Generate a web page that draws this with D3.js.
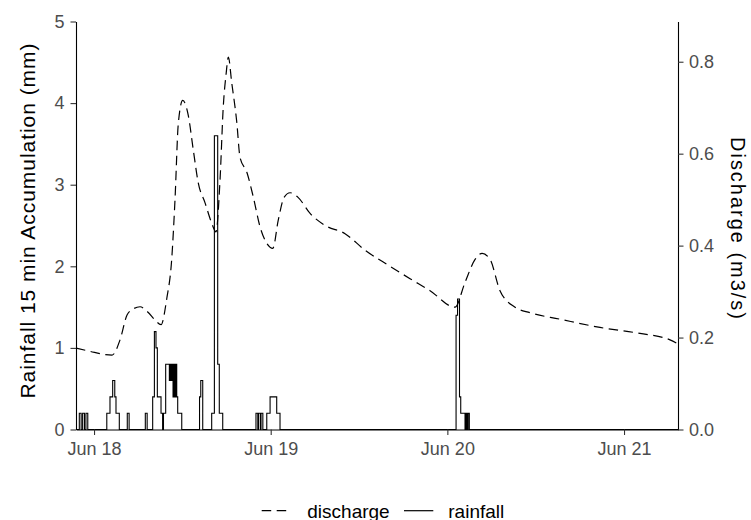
<!DOCTYPE html>
<html><head><meta charset="utf-8">
<script src="https://cdn.jsdelivr.net/npm/d3@7"></script>
<style>body{margin:0;background:#fff}svg{display:block}</style>
</head><body>
<svg id="chart" width="751" height="520"></svg>
<script>
// ---- data ----
const dischargeTimes = ["06-17 21:33","06-17 23:27","06-18 01:30","06-18 02:27","06-18 03:32","06-18 04:29","06-18 05:18","06-18 06:15","06-18 07:20","06-18 08:17","06-18 09:06","06-18 09:53","06-18 10:33","06-18 11:00","06-18 11:27","06-18 12:03","06-18 12:49","06-18 13:29","06-18 14:10","06-18 15:05","06-18 15:59","06-18 16:34","06-18 17:07","06-18 17:34","06-18 17:56","06-18 18:15","06-18 18:42","06-18 19:23","06-18 19:50","06-18 20:45","06-18 21:38","06-18 22:33","06-18 23:28","06-19 00:17","06-19 01:02","06-19 01:49","06-19 02:38","06-19 03:43","06-19 05:21","06-19 07:23","06-19 10:06","06-19 12:49","06-19 16:13","06-19 18:56","06-19 21:39","06-20 01:02","06-20 02:24","06-20 03:46","06-20 04:43","06-20 05:48","06-20 07:09","06-20 09:12","06-20 11:14","06-20 15:18","06-20 20:44","06-21 02:10","06-21 06:15","06-21 07:20"];
const dischargeValues = [0.177,0.170,0.163,0.162,0.195,0.249,0.262,0.267,0.255,0.238,0.228,0.285,0.370,0.500,0.666,0.716,0.682,0.608,0.536,0.493,0.449,0.430,0.543,0.705,0.772,0.810,0.755,0.670,0.592,0.560,0.506,0.441,0.405,0.394,0.456,0.505,0.515,0.505,0.470,0.444,0.426,0.390,0.355,0.328,0.302,0.266,0.320,0.370,0.383,0.370,0.302,0.266,0.254,0.240,0.222,0.209,0.195,0.186];

const rainTimes = ["06-17 21:33",
 "06-17 22:00","06-17 22:15","06-17 22:27","06-17 22:42","06-17 22:54","06-17 23:09",
 "06-18 01:44","06-18 02:10","06-18 02:32","06-18 02:49","06-18 02:59","06-18 03:26",
 "06-18 04:31","06-18 04:46","06-18 06:58","06-18 07:13",
 "06-18 07:58","06-18 08:12","06-18 08:25","06-18 08:36","06-18 09:06","06-18 09:19",
 "06-18 09:26","06-18 09:44","06-18 10:14","06-18 10:19","06-18 10:24","06-18 10:29","06-18 10:34","06-18 10:39","06-18 10:44","06-18 10:49","06-18 10:54","06-18 10:59","06-18 11:04","06-18 11:09","06-18 11:14","06-18 11:22","06-18 11:55",
 "06-18 14:20","06-18 14:30","06-18 14:46",
 "06-18 15:59","06-18 16:21","06-18 16:48","06-18 17:01","06-18 17:29",
 "06-18 22:00","06-18 22:15","06-18 22:21","06-18 22:36","06-18 22:41","06-18 22:56",
 "06-18 23:28","06-18 23:55","06-19 00:49","06-19 01:16",
 "06-20 01:11","06-20 01:23","06-20 01:39","06-20 01:49","06-20 02:24","06-20 02:29","06-20 02:34","06-20 02:39","06-20 02:44","06-20 02:49","06-20 02:54","06-20 02:59",
 "06-21 07:20"];
const rainValues = [0,
 0.2,0,0.2,0,0.2,0,
 0.2,0.4,0.6,0.4,0.2,0,
 0.2,0,0.2,0,
 0.4,1.2,1.0,0.4,0.2,0,
 0.2,0.8,0.6,0.8,0.6,0.8,0.6,0.8,0.4,0.8,0.4,0.8,0.4,0.8,0.4,0.2,0,
 0.4,0.6,0,
 0.2,3.6,0.8,0.2,0,
 0.2,0,0.2,0,0.2,0,
 0.2,0.4,0.2,0,
 1.4,1.6,0.4,0.2,0,0.2,0,0.2,0,0.2,0.2,0,
 0];

const xTicks = ["06-18 00:00","06-19 00:00","06-20 00:00","06-21 00:00"];
const xDomain = ["06-17 21:33","06-21 07:20"];
const yLeftTicks = [0,1,2,3,4,5];
const yRightTicks = [0,0.2,0.4,0.6,0.8];
const rainMax = 5;
const dischargeMax = 0.8875;
const seriesNames = ["discharge","rainfall"];

// ---- drawing ----
const parse = s => d3.utcParse("%Y-%m-%d %H:%M")("2021-" + s);
const svg = d3.select("#chart");
const L = 76, R = 678, T = 21.5, B = 429.5;
const FONT = "'Liberation Sans', Arial, sans-serif";

const x = d3.scaleUtc().domain(xDomain.map(parse)).range([L, R]);
const yL = d3.scaleLinear().domain([0, rainMax]).range([B, T]);
const yR = d3.scaleLinear().domain([0, dischargeMax]).range([B, T]);

const rain = rainTimes.map((t, i) => ({t: parse(t), v: rainValues[i]}));
const dis = dischargeTimes.map((t, i) => ({t: parse(t), v: dischargeValues[i]}));

svg.append("path")
  .attr("d", d3.line().x(d => x(d.t)).y(d => yL(d.v)).curve(d3.curveStepAfter)(rain))
  .attr("fill", "none").attr("stroke", "#000").attr("stroke-width", 1.1);

svg.append("path")
  .attr("d", d3.line().x(d => x(d.t)).y(d => yR(d.v)).curve(d3.curveMonotoneX)(dis))
  .attr("fill", "none").attr("stroke", "#000").attr("stroke-width", 1.2)
  .attr("stroke-dasharray", "9.5,5.5");

function styleAxis(g) {
  g.select(".domain").attr("stroke", "#000").attr("stroke-width", 1.1);
  g.selectAll(".tick line").attr("stroke", "#333").attr("stroke-width", 1.1);
  g.selectAll(".tick text").attr("fill", "#4d4d4d").style("font-family", FONT).style("font-size", "18px");
}

svg.append("g").attr("transform", `translate(${L},0)`)
  .call(d3.axisLeft(yL).tickValues(yLeftTicks).tickFormat(d3.format("d")).tickSize(5.5).tickSizeOuter(0).tickPadding(6))
  .call(styleAxis);
svg.append("g").attr("transform", `translate(${R},0)`)
  .call(d3.axisRight(yR).tickValues(yRightTicks).tickFormat(d3.format(".1f")).tickSize(5.5).tickSizeOuter(0).tickPadding(5.5))
  .call(styleAxis);
svg.append("g").attr("transform", `translate(0,${B})`)
  .call(d3.axisBottom(x).tickValues(xTicks.map(parse)).tickFormat(d3.utcFormat("%b %d")).tickSize(5.5).tickSizeOuter(0).tickPadding(7.7))
  .call(styleAxis);

// axis titles
svg.append("text").attr("transform", `translate(35,221) rotate(-90)`)
  .attr("text-anchor", "middle").style("font-family", FONT).style("font-size", "21px").attr("fill", "#000")
  .attr("textLength", 355).attr("lengthAdjust", "spacing")
  .text("Rainfall 15 min Accumulation (mm)");
svg.append("text").attr("transform", `translate(731,228) rotate(90)`)
  .attr("text-anchor", "middle").style("font-family", FONT).style("font-size", "20px").attr("fill", "#000")
  .attr("textLength", 182).attr("lengthAdjust", "spacing")
  .text("Discharge (m3/s)");

// legend
const legend = svg.append("g");
const keys = [{x0: 261.7, x1: 287.3, tx: 307.3, dash: "9.5,5.5"}, {x0: 404, x1: 433.3, tx: 448.3, dash: null}];
keys.forEach((k, i) => {
  legend.append("line").attr("x1", k.x0).attr("x2", k.x1).attr("y1", 510.7).attr("y2", 510.7)
    .attr("stroke", "#000").attr("stroke-width", 1.2).attr("stroke-dasharray", k.dash);
  legend.append("text").attr("x", k.tx).attr("y", 517.5)
    .style("font-family", FONT).style("font-size", "19px").attr("fill", "#000").text(seriesNames[i]);
});
</script>
</body></html>
